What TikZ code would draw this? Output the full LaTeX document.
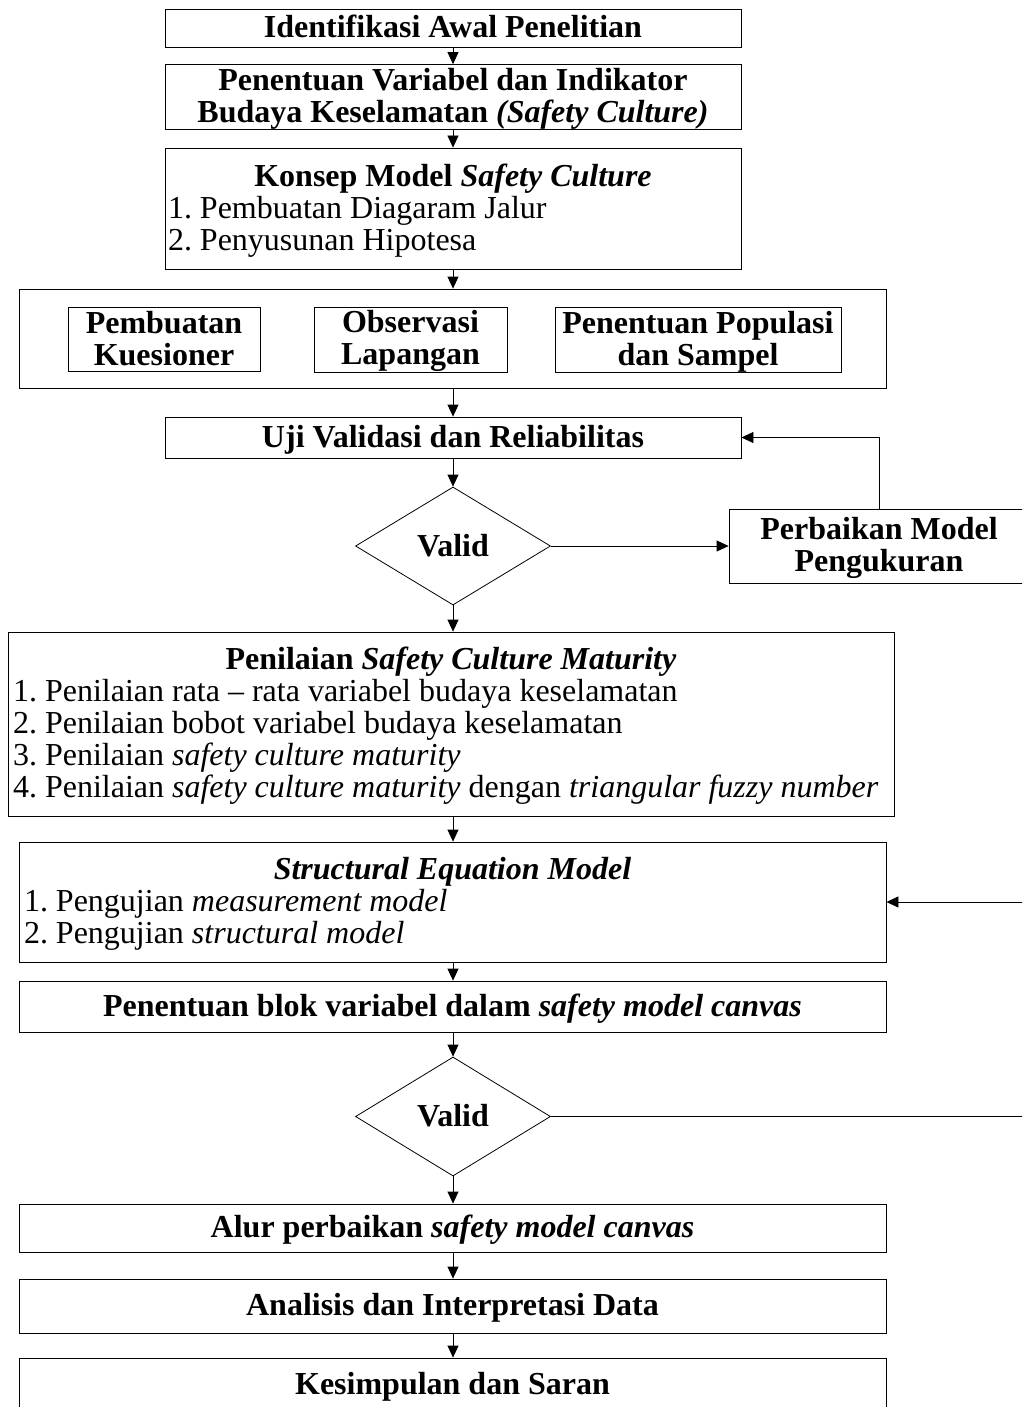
\documentclass[tikz,border=0pt]{standalone}
\usepackage{fontspec}
\setmainfont{Liberation Serif}
\usetikzlibrary{arrows.meta,shapes.geometric}

% fixed-height line strut so every text line takes 32pt
\newcommand\lnstrut{\vrule height 26pt depth 6pt width 0pt}
\newcommand\fixedlines{\lineskiplimit=-100pt\relax}
\frenchspacing
\fixedlines

\begin{document}
\begin{tikzpicture}[x=1pt,y=-1pt,
  box/.style={draw, line width=0.8pt, inner sep=0pt, align=center,
    font=\fontsize{32}{32}\selectfont\bfseries\fixedlines},
  listbox/.style={draw, line width=0.8pt, inner sep=0pt,
    font=\fontsize{32}{32}\selectfont\fixedlines},
  decision/.style={draw, diamond, line width=0.8pt, inner sep=0pt,
    font=\fontsize{32}{32}\selectfont\bfseries},
  flow/.style={-{Triangle[length=12pt,width=11pt]}, line width=0.8pt}]

\useasboundingbox (0,0) rectangle (1022,1407);
\clip (0,0) rectangle (1022,1407);

% main column
\node[box, minimum width=576pt, minimum height=38pt] (b1) at (453,28)
  {\lnstrut Identifikasi Awal Penelitian};
\node[box, minimum width=576pt, minimum height=62pt] (b2) at (453,97)
  {\lnstrut Penentuan Variabel dan Indikator\\\lnstrut Budaya Keselamatan \textit{(Safety Culture)}};
\node[listbox, minimum width=576pt, minimum height=121pt] (b3) at (453,208.5)
  {\begin{minipage}{570pt}\raggedright\fixedlines
   \lnstrut\makebox[570pt][c]{\bfseries Konsep Model \textit{Safety Culture}}\\
   \lnstrut 1. Pembuatan Diagaram Jalur\\
   \lnstrut 2. Penyusunan Hipotesa
   \end{minipage}};

% data collection group
\node[draw, line width=0.8pt, minimum width=867pt, minimum height=99pt, inner sep=0pt] (b4) at (452.5,338.5) {};
\node[box, minimum width=192pt, minimum height=61pt] (g1) at (164,339.5)
  {\lnstrut Pembuatan\\\lnstrut Kuesioner};
\node[box, minimum width=193pt, minimum height=61pt] (g2) at (410.5,339.5)
  {\lnstrut Observasi\\\lnstrut Lapangan};
\node[box, minimum width=286pt, minimum height=61pt] (g3) at (698,339.5)
  {\lnstrut Penentuan Populasi\\\lnstrut dan Sampel};

\node[box, minimum width=576pt, minimum height=41pt] (b5) at (453,437.5)
  {\lnstrut Uji Validasi dan Reliabilitas};
\node[decision, minimum width=195pt, minimum height=118pt] (d1) at (453,546) {\lnstrut Valid};
\node[box, minimum width=300pt, minimum height=74pt] (p1) at (879,546)
  {\lnstrut Perbaikan Model\\\lnstrut Pengukuran};

\node[listbox, minimum width=886pt, minimum height=184pt] (b6) at (451,724)
  {\begin{minipage}{876pt}\raggedright\fixedlines
   \lnstrut\makebox[876pt][c]{\bfseries Penilaian \textit{Safety Culture Maturity}}\\
   \lnstrut 1. Penilaian rata -- rata variabel budaya keselamatan\\
   \lnstrut 2. Penilaian bobot variabel budaya keselamatan\\
   \lnstrut 3. Penilaian \textit{safety culture maturity}\\
   \lnstrut 4. Penilaian \textit{safety culture maturity} dengan \textit{triangular fuzzy number}
   \end{minipage}};

\node[listbox, minimum width=867pt, minimum height=120pt] (b7) at (452.5,902)
  {\begin{minipage}{857pt}\raggedright\fixedlines
   \lnstrut\makebox[857pt][c]{\bfseries\itshape Structural Equation Model}\\
   \lnstrut 1. Pengujian \textit{measurement model}\\
   \lnstrut 2. Pengujian \textit{structural model}
   \end{minipage}};

\node[box, minimum width=867pt, minimum height=51pt] (b8) at (452.5,1006.5)
  {\lnstrut Penentuan blok variabel dalam \textit{safety model canvas}};
\node[decision, minimum width=195pt, minimum height=119pt] (d2) at (453,1116.5) {\lnstrut Valid};
\node[box, minimum width=867pt, minimum height=48pt] (b9) at (452.5,1228)
  {\lnstrut Alur perbaikan \textit{safety model canvas}};
\node[box, minimum width=867pt, minimum height=54pt] (b10) at (452.5,1306)
  {\lnstrut Analisis dan Interpretasi Data};
\node[box, minimum width=867pt, minimum height=54pt] (b11) at (452.5,1385)
  {\lnstrut Kesimpulan dan Saran};

% return path of the second check runs along the right margin
\coordinate (rx) at (1045,0);

% connectors
\draw[flow] (b1.south) -- (b1.south |- b2.north);
\draw[flow] (b2.south) -- (b2.south |- b3.north);
\draw[flow] (b3.south) -- (b3.south |- b4.north);
\draw[flow] (b3.south |- b4.south) -- (b5.north);
\draw[flow] (b5.south) -- (d1.north);
\draw[flow] (d1.east) -- (p1.west);
\draw[flow] (p1.north) |- (b5.east);
\draw[flow] (d1.south) -- (d1.south |- b6.north);
\draw[flow] (d1.south |- b6.south) -- (d1.south |- b7.north);
\draw[flow] (d1.south |- b7.south) -- (d1.south |- b8.north);
\draw[flow] (d1.south |- b8.south) -- (d2.north);
\draw[flow] (d2.east) -- (d2.east -| rx) |- (b7.east);
\draw[flow] (d2.south) -- (d2.south |- b9.north);
\draw[flow] (d2.south |- b9.south) -- (d2.south |- b10.north);
\draw[flow] (d2.south |- b10.south) -- (d2.south |- b11.north);
\end{tikzpicture}
\end{document}
